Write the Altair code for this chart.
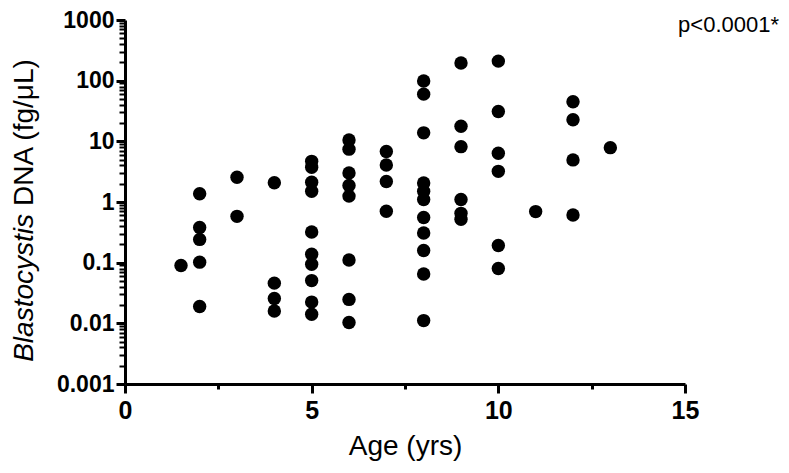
import altair as alt
import pandas as pd

# Data (age in years, Blastocystis DNA in fg/uL)
age_1_5 = [1.5]
dna_1_5 = [0.09]
age_2 = [2] * 5
dna_2 = [1.37, 0.38, 0.242, 0.102, 0.019]
age_3 = [3] * 2
dna_3 = [2.56, 0.58]
age_4 = [4] * 4
dna_4 = [2.07, 0.046, 0.0257, 0.016]
age_5 = [5] * 10
dna_5 = [4.68, 3.73, 2.12, 1.5, 0.32, 0.138, 0.094, 0.0506, 0.0224, 0.0141]
age_6 = [6] * 8
dna_6 = [10.5, 7.43, 3.01, 1.87, 1.25, 0.111, 0.0248, 0.0103]
age_7 = [7] * 4
dna_7 = [6.81, 4.07, 2.18, 0.705]
age_8 = [8] * 11
dna_8 = [99, 60, 13.8, 2.06, 1.51, 1.1, 0.555, 0.308, 0.159, 0.065, 0.0111]
age_9 = [9] * 6
dna_9 = [195, 17.7, 8.17, 1.1, 0.65, 0.52]
age_10 = [10] * 6
dna_10 = [210, 31, 6.35, 3.2, 0.192, 0.08]
age_11 = [11]
dna_11 = [0.695]
age_12 = [12] * 4
dna_12 = [45, 22.7, 4.94, 0.61]
age_13 = [13]
dna_13 = [7.87]

ages = (age_1_5 + age_2 + age_3 + age_4 + age_5 + age_6 + age_7 + age_8
        + age_9 + age_10 + age_11 + age_12 + age_13)
dnas = (dna_1_5 + dna_2 + dna_3 + dna_4 + dna_5 + dna_6 + dna_7 + dna_8
        + dna_9 + dna_10 + dna_11 + dna_12 + dna_13)

x_ticks = [0, 2.5, 5, 7.5, 10, 12.5, 15]
y_major = [0.001, 0.01, 0.1, 1, 10, 100, 1000]
y_ticks = sorted(set([m * 10.0 ** k for k in range(-3, 3) for m in range(1, 10)] + y_major))

df = pd.DataFrame({"age": ages, "dna": dnas})

W, H = 560, 364
FONT = "Liberation Sans"

is_major_y = "abs(log(datum.value)/LN10 - round(log(datum.value)/LN10)) < 0.001"
is_major_x = "datum.value % 5 == 0"

points = alt.Chart(df).mark_circle(size=180, color="black", opacity=1).encode(
    x=alt.X("age:Q",
            scale=alt.Scale(domain=[0, 15], nice=False, zero=False),
            axis=alt.Axis(
                values=x_ticks,
                title="Age (yrs)",
                titleFont=FONT, titleFontSize=28, titleFontWeight="normal",
                titleColor="black", titlePadding=9,
                labelExpr=f"({is_major_x}) ? '' + datum.value : ''",
                labelFont=FONT, labelFontSize=25, labelFontWeight="bold",
                labelColor="black", labelPadding=5, labelFlush=False,
                labelOverlap=False,
                tickSize={"condition": {"test": is_major_x, "value": 9}, "value": 5},
                tickWidth=3, tickColor="black",
                domainWidth=3, domainColor="black", grid=False)),
    y=alt.Y("dna:Q",
            scale=alt.Scale(type="log", domain=[0.001, 1000], nice=False),
            axis=alt.Axis(
                values=y_ticks,
                title=None,
                labelExpr=f"({is_major_y}) ? '' + datum.value : ''",
                labelFont=FONT, labelFontSize=23, labelFontWeight="bold",
                labelColor="black", labelPadding=2, labelFlush=False,
                labelOverlap=False,
                tickSize={"condition": {"test": is_major_y, "value": 9}, "value": 6},
                tickWidth={"condition": {"test": is_major_y, "value": 3}, "value": 2},
                tickColor="black",
                domainWidth=3, domainColor="black", grid=False)),
)

title_italic = alt.Chart(pd.DataFrame({"t": ["Blastocystis"]})).mark_text(
    angle=270, align="right", baseline="alphabetic", font=FONT, fontSize=28,
    fontStyle="italic", color="black"
).encode(text="t:N", x=alt.value(-92), y=alt.value(194))

title_plain = alt.Chart(pd.DataFrame({"t": ["DNA (fg/μL)"]})).mark_text(
    angle=270, align="left", baseline="alphabetic", font=FONT, fontSize=28,
    color="black"
).encode(text="t:N", x=alt.value(-92), y=alt.value(186))

pval = alt.Chart(pd.DataFrame({"t": ["p<0.0001*"]})).mark_text(
    align="right", baseline="alphabetic", font=FONT, fontSize=22, color="black"
).encode(text="t:N", x=alt.value(654), y=alt.value(12))

chart = alt.layer(points, title_italic, title_plain, pval).properties(
    width=W, height=H,
    autosize=alt.AutoSizeParams(type="none"),
    padding={"left": 117, "top": 12, "right": 96, "bottom": 81},
).configure(background="white", view=alt.ViewConfig(stroke=None))

chart.save("out.html", embed_options={"renderer": "svg", "actions": False})
